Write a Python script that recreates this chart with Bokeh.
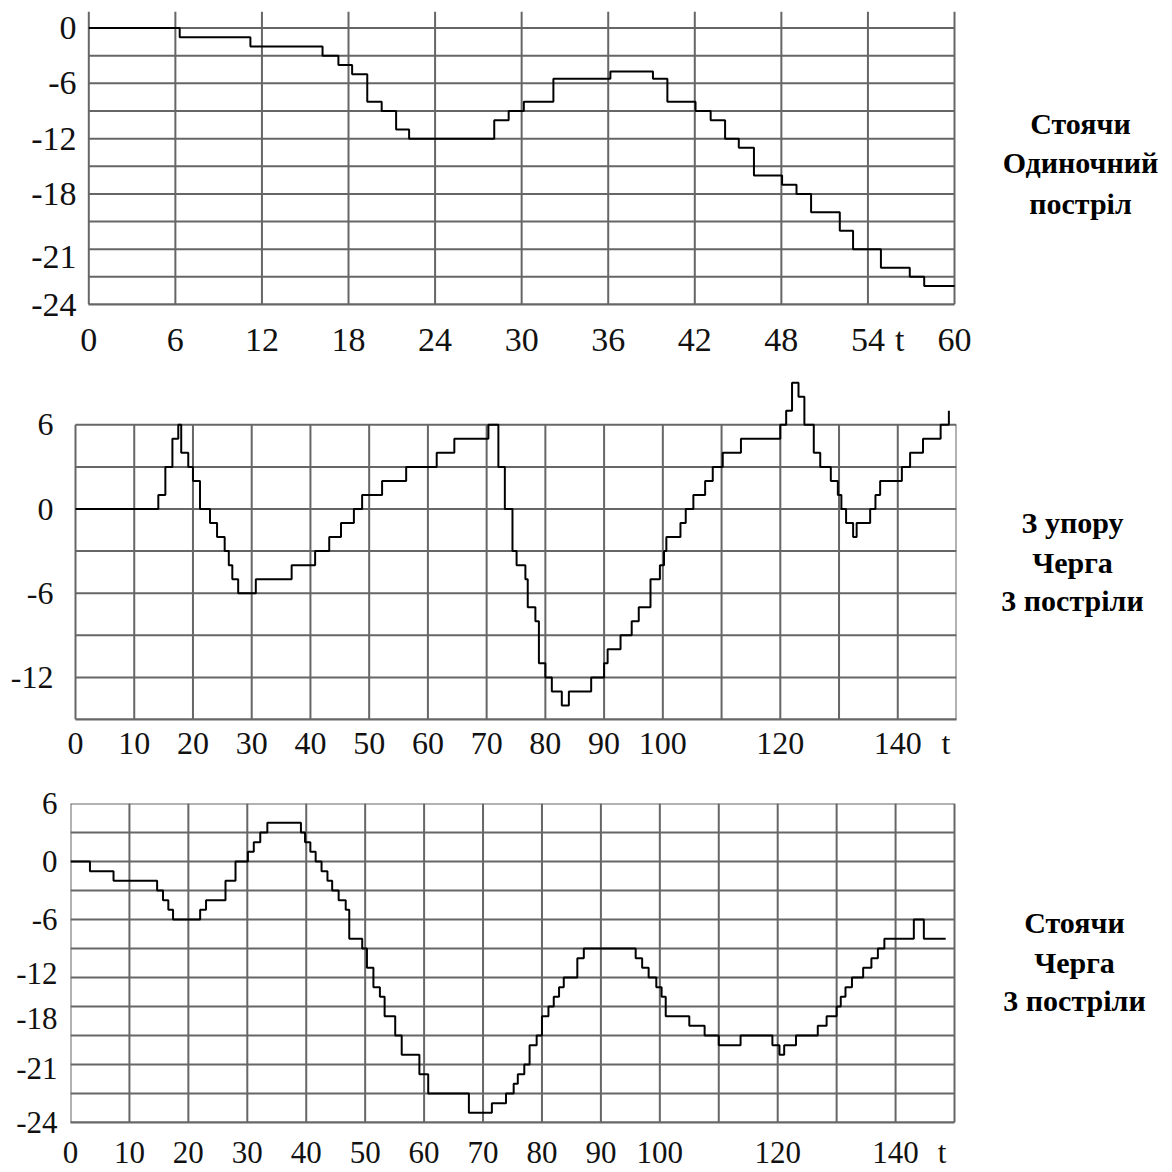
from bokeh.plotting import figure
from bokeh.layouts import column, row
from bokeh.models import FixedTicker, Range1d
from bokeh.core.properties import value
from bokeh.embed import file_html
from bokeh.resources import INLINE

# ---------------- Panel 1: Стоячи / Одиночний постріл ----------------
p1_t = [0, 6.3, 11.2, 16.2, 17.3, 18.25, 19.3, 20.3, 21.3, 22.2, 28.1, 29.1, 30.15,
        32.2, 36.15, 39.1, 40.1, 42.05, 43.1, 44.1, 45.05, 46.1, 48.05, 49.05, 50.06,
        52.05, 52.97, 54.9, 56.9, 57.9, 60]
p1_v = [0, -1, -2, -3, -4, -5, -8, -9, -11, -12, -10, -9, -8,
        -5.5, -4.7, -5.5, -8, -9, -10, -12, -13, -16, -17, -18, -20,
        -22, -24, -26, -27, -28, -28]
p1_xticks = [0, 6, 12, 18, 24, 30, 36, 42, 48, 54, 56.2, 60]
p1_xlabels = ["0", "6", "12", "18", "24", "30", "36", "42", "48", "54", "t", "60"]
p1_yticks = [0, -6, -12, -18, -24.8, -30]
p1_ylabels = ["0", "-6", "-12", "-18", "-21", "-24"]
p1_xgrid = [0, 6, 12, 18, 24, 30, 36, 42, 48, 54, 60]
p1_ygrid = [0, -3, -6, -9, -12, -15, -18, -21, -24, -27, -30]
p1_caption = ["Стоячи", "Одиночний", "постріл"]

# ---------------- Panel 2: З упору / Черга 3 постріли ----------------
p2_t = [0, 14.1, 15.3, 16.5, 17.5, 18.0, 19.2, 20.0, 21.2, 22.9, 24.1, 25.4, 26.1, 26.7,
        27.7, 30.7, 36.8, 40.8, 43.2, 45.2, 47.4, 48.8, 52.2, 56.3, 61.5, 64.5, 70.3,
        72.0, 73.1, 74.4, 75.1, 76.6, 77.0, 78.3, 78.9, 80.0, 81.1, 82.8, 84.0, 87.8,
        90.0, 90.6, 92.8, 94.7, 95.9, 97.9, 99.5, 100.2, 100.6, 103.0, 103.9, 105.2,
        107.2, 108.5, 110.2, 113.3, 120.0, 121.0, 122.0, 123.1, 124.1, 125.7, 126.8,
        128.6, 129.8, 130.4, 131.2, 132.4, 133.0, 135.3, 136.2, 137.0, 140.7, 142.1,
        144.3, 147.3, 148.7]
p2_v = [0, 1, 3, 5, 6, 4, 3, 2, 0, -1, -2, -3, -4, -5,
        -6, -5, -4, -3, -2, -1, 0, 1, 2, 3, 4, 5, 6,
        3, 0, -3, -4, -5, -7, -8, -11, -12, -13, -14, -13, -12,
        -11, -10, -9, -8, -7, -5, -4, -3, -2, -1, 0, 1,
        2, 3, 4, 5, 6, 7, 9, 8, 6, 4, 3,
        2, 1, 0, -1, -2, -1, 0, 1, 2, 3, 4,
        5, 6, 7]
p2_xticks = [0, 10, 20, 30, 40, 50, 60, 70, 80, 90, 100, 120, 140, 148.2]
p2_xlabels = ["0", "10", "20", "30", "40", "50", "60", "70", "80", "90", "100", "120", "140", "t"]
p2_yticks = [6, 0, -6, -12]
p2_ylabels = ["6", "0", "-6", "-12"]
p2_xgrid = [0, 10, 20, 30, 40, 50, 60, 70, 80, 90, 100, 110, 120, 130, 140, 150]
p2_ygrid = [6, 3, 0, -3, -6, -9, -12, -15]
p2_caption = ["З упору", "Черга", "3 постріли"]

# ---------------- Panel 3: Стоячи / Черга 3 постріли ----------------
p3_t = [0, 3.3, 7.3, 14.7, 15.7, 16.6, 17.4, 22.0, 23.0, 26.3, 28.0, 30.1, 31.1, 32.2,
        33.4, 39.1, 39.8, 40.7, 41.6, 42.6, 43.6, 44.4, 45.5, 46.7, 47.3, 49.5, 50.3,
        51.4, 52.5, 53.3, 55.1, 56.2, 59.2, 60.7, 67.6, 71.5, 73.9, 75.2, 75.9, 77.0,
        77.9, 79.1, 80.0, 81.1, 82.0, 82.9, 83.7, 86.0, 87.1, 95.9, 97.0, 98.1, 99.4,
        100.3, 101.0, 105.0, 107.6, 110.0, 113.7, 119.1, 120.3, 121.1, 123.1, 126.8,
        128.3, 130.0, 130.7, 131.5, 132.6, 134.5, 135.9, 137.0, 138.1, 143.1, 144.8,
        148.5]
p3_v = [0, -1, -2, -3, -4, -5, -6, -5, -4, -2, 0, 1, 2, 3,
        4, 3, 2, 1, 0, -1, -2, -3, -4, -5, -8, -9, -11,
        -13, -14, -16, -18, -20, -22, -24, -26, -25, -24, -23, -22, -21,
        -19, -18, -16, -15, -14, -13, -12, -10, -9, -10, -11, -12, -13,
        -14, -16, -17, -18, -19, -18, -19, -20, -19, -18, -17,
        -16, -15, -14, -13, -12, -11, -10, -9, -8, -6, -8,
        -8]
p3_xticks = [0, 10, 20, 30, 40, 50, 60, 70, 80, 90, 100, 120, 140, 147.9]
p3_xlabels = ["0", "10", "20", "30", "40", "50", "60", "70", "80", "90", "100", "120", "140", "t"]
p3_yticks = [6, 0, -6, -11.6, -16.2, -21.4, -27]
p3_ylabels = ["6", "0", "-6", "-12", "-18", "-21", "-24"]
p3_xgrid = [0, 10, 20, 30, 40, 50, 60, 70, 80, 90, 100, 110, 120, 130, 140, 150]
p3_ygrid = [6, 3, 0, -3, -6, -9, -12, -15, -18, -21, -24, -27]
p3_caption = ["Стоячи", "Черга", "3 постріли"]

GRID = "#666666"
FONT = "Liberation Serif"
MAIN_W = 990
CAP_W = 1172 - MAIN_W
FRAME_L, FRAME_R = 70, 956   # common frame for the three panels (page pixels)


def panel(t, v, zero_px, end_px, x_end, y_range, xticks, xlabels, yticks, ylabels,
          xgrid, ygrid, vgrid_top, height, top, bottom, tick_font, x_standoff, y_standoff):
    # x range chosen so that t=0 sits at zero_px and t=x_end at end_px
    ppu = (end_px - zero_px) / x_end
    x_range = Range1d(-(zero_px - FRAME_L) / ppu, x_end + (FRAME_R - end_px) / ppu)
    p = figure(width=MAIN_W, height=height, x_range=x_range, y_range=Range1d(*y_range),
               output_backend="svg", toolbar_location=None,
               min_border_left=FRAME_L, min_border_right=MAIN_W - FRAME_R,
               min_border_top=top, min_border_bottom=height - bottom)
    p.outline_line_color = None
    p.background_fill_color = "white"
    p.border_fill_color = "white"
    p.xgrid.visible = False
    p.ygrid.visible = False

    # grid lines bounded to the chart box (the t=0 line is the left border)
    ylo = min(ygrid)
    p.segment(x0=xgrid, y0=[ylo] * len(xgrid), x1=xgrid, y1=[vgrid_top] * len(xgrid),
              line_color=GRID, line_width=2)
    xl, xh = min(xgrid), max(xgrid)
    p.segment(x0=[xl] * len(ygrid), y0=ygrid, x1=[xh] * len(ygrid), y1=ygrid,
              line_color=GRID, line_width=2)

    p.step(t, v, mode="after", line_color="#000000", line_width=2)

    p.xaxis.ticker = FixedTicker(ticks=xticks)
    p.yaxis.ticker = FixedTicker(ticks=yticks)
    p.xaxis.major_label_overrides = {k: s for k, s in zip(xticks, xlabels)}
    p.yaxis.major_label_overrides = {k: s for k, s in zip(yticks, ylabels)}
    for ax in (p.xaxis[0], p.yaxis[0]):
        ax.axis_line_color = GRID
        ax.axis_line_width = 2
        ax.major_tick_line_color = None
        ax.minor_tick_line_color = None
        ax.major_tick_out = 0
        ax.major_tick_in = 0
        ax.major_label_text_font = FONT
        ax.major_label_text_font_size = f"{tick_font}px"
        ax.major_label_text_color = "#111111"
    p.yaxis.axis_line_color = None
    p.xaxis.major_label_standoff = x_standoff
    p.yaxis.major_label_standoff = y_standoff
    p.xaxis.bounds = (xl, xh)
    return p


p1 = panel(p1_t, p1_v, 88.3, 954, 60, (-30, 1.8), p1_xticks, p1_xlabels, p1_yticks,
           p1_ylabels, p1_xgrid, p1_ygrid, 1.8, 372, 11, 304, 34, 16, -6)

p2 = panel(p2_t, p2_v, 75, 956, 150, (-15, 9.3), p2_xticks, p2_xlabels, p2_yticks,
           p2_ylabels, p2_xgrid, p2_ygrid, 6, 413, 6, 347, 32, 5, 17)

p3 = panel(p3_t, p3_v, 70, 954, 150, (-27, 6), p3_xticks, p3_xlabels, p3_yticks,
           p3_ylabels, p3_xgrid, p3_ygrid, 6, 387, 18, 337, 31, 12, 13)

# caption column on the right, drawn in a figure whose units are page pixels
cap_text = p1_caption + p2_caption + p3_caption
cap_x = [1080] * 3 + [1072] * 3 + [1074] * 3
cap_y = [123, 162, 203, 522, 562, 600, 922, 962, 1000]
cap = figure(width=CAP_W, height=1172, x_range=Range1d(MAIN_W, 1172),
             y_range=Range1d(1172, 0), output_backend="svg", toolbar_location=None,
             min_border=0)
cap.axis.visible = False
cap.grid.visible = False
cap.outline_line_color = None
cap.background_fill_color = "white"
cap.border_fill_color = "white"
cap.text(x=cap_x, y=cap_y, text=cap_text, text_align="center", text_baseline="middle",
         text_font=value(FONT), text_font_size="30px",
         text_font_style="bold", text_color="#000000")

layout = row(column(p1, p2, p3, spacing=0), cap, spacing=0)
open("out.html", "w").write(file_html(layout, INLINE))
